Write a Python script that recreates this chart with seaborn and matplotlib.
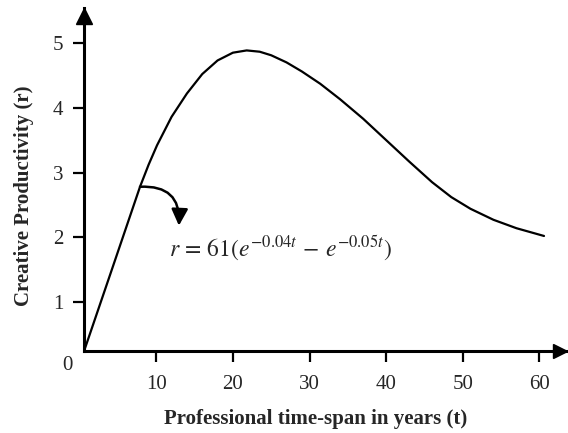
import matplotlib
matplotlib.use("Agg")
import matplotlib.pyplot as plt
import pandas as pd
import seaborn as sns

# values
t_years = [0.57, 4.0, 7.88, 9.0, 10.1, 12.0, 14.0, 16.0, 18.0, 20.0, 21.8, 23.5,
           25.0, 27.0, 29.0, 31.4, 34.0, 37.0, 40.0, 43.0, 46.0, 48.5, 51.0,
           54.0, 57.0, 60.6]
r_values = [0.24, 1.43, 2.78, 3.12, 3.42, 3.86, 4.22, 4.52, 4.73, 4.85, 4.885, 4.865,
            4.81, 4.70, 4.56, 4.37, 4.13, 3.83, 3.50, 3.17, 2.85, 2.62, 2.44,
            2.27, 2.14, 2.02]
x_ticks = [10, 20, 30, 40, 50, 60]
y_ticks = [1, 2, 3, 4, 5]
x_limits = (0.57, 63.6)
y_limits = (0.244, 5.54)
formula = r"$r\,=\,61(e^{-0.04t}\,-\,e^{-0.05t})$"

df = pd.DataFrame({"t": t_years, "r": r_values})

sns.set_style("white")
plt.rcParams["font.family"] = ["Liberation Serif", "DejaVu Serif"]
plt.rcParams["mathtext.fontset"] = "stix"

fig = plt.figure(figsize=(5.68, 4.33), dpi=100)
ax = fig.add_axes([84 / 568, 1 - 351 / 433, 483 / 568, 343 / 433])

sns.lineplot(data=df, x="t", y="r", color="black", linewidth=1.6, ax=ax)

ax.set_xlim(*x_limits)
ax.set_ylim(*y_limits)
ax.set_xticks(x_ticks)
ax.set_yticks(y_ticks)
ax.tick_params(axis="both", direction="out", length=8, width=1.6, color="black",
               labelsize=15, bottom=True, left=True)
ax.tick_params(axis="x", pad=9)
ax.tick_params(axis="y", pad=7)

for side in ["top", "right"]:
    ax.spines[side].set_visible(False)
for side in ["left", "bottom"]:
    ax.spines[side].set_linewidth(2.2)
    ax.spines[side].set_color("black")

# arrow heads on the axes
ax.plot(0.985, 0, ">", color="black", markersize=10, transform=ax.transAxes, clip_on=False)
ax.plot(0, 0.976, "^", color="black", markersize=11, transform=ax.transAxes, clip_on=False)

ax.text(-0.035, -0.043, "0", transform=ax.transAxes, ha="center", va="center", fontsize=15)

ax.set_xlabel("Professional time-span in years (t)", fontsize=15, fontweight="bold")
ax.set_ylabel("Creative Productivity (r)", fontsize=15, fontweight="bold")
ax.xaxis.set_label_coords(0.48, -0.17)
ax.yaxis.set_label_coords(-0.103, 0.452)

# annotation arrow from the curve to the formula
ax.annotate("", xy=(t_years[2], r_values[2]), xycoords="data",
            xytext=(28, -28), textcoords="offset points",
            arrowprops=dict(arrowstyle="<|-,head_length=1.0,head_width=0.5",
                            connectionstyle="arc3,rad=0.55", color="black", lw=1.8,
                            shrinkA=0, shrinkB=0))
ax.text(t_years[2] + 3.8, r_values[2] - 0.95, formula, fontsize=17, ha="left", va="center")

fig.savefig("out.png", dpi=100)
